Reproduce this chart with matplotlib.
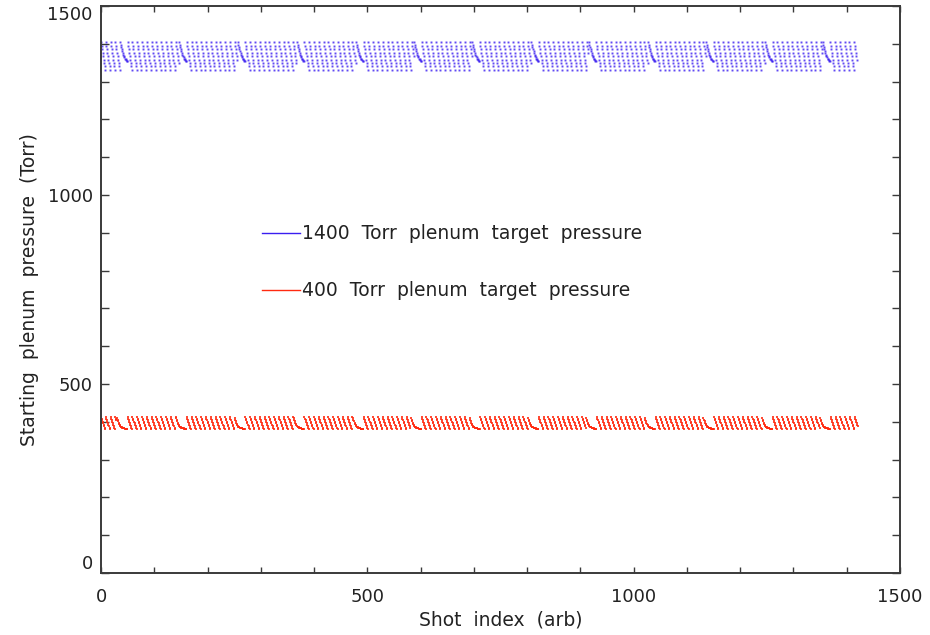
import numpy as np
import matplotlib
matplotlib.use("Agg")
import matplotlib.pyplot as plt
from matplotlib.ticker import MultipleLocator

# ---- values ----
# one ordinary fill/drain cycle (pressure level at each shot of the cycle)
blue_cycle = [1404, 1395, 1386, 1376, 1367, 1358, 1349, 1340, 1331]
red_cycle = [412, 408, 404, 400, 396, 392, 388, 384, 380]
# the slow decays that appear roughly every ~110 shots
blue_decay = [1404, 1397, 1391, 1385, 1380, 1375, 1371, 1367, 1364, 1361, 1359, 1357, 1355, 1354]
red_decay = [410, 405, 401, 397, 394, 391, 389, 387, 386, 385, 384, 384, 383, 383, 383, 382, 382, 382, 381, 381]
# shot indices where the slow decays start
blue_decay_shots = [36, 147, 257, 368, 479, 588, 697, 808, 916, 1027, 1136, 1247, 1355]
red_decay_shots = [30, 141, 251, 362, 473, 582, 692, 802, 911, 1021, 1131, 1241, 1350]
last_shot_blue = 1419
last_shot_red = 1421

legend_labels = ["1400  Torr  plenum  target  pressure", "400  Torr  plenum  target  pressure"]
x_label = "Shot  index  (arb)"
y_label = "Starting  plenum  pressure  (Torr)"
x_ticks = [0, 500, 1000, 1500]
y_ticks = [0, 500, 1000, 1500]


def build(cycle, decay, decay_shots, last):
    vals = []
    starts = list(decay_shots) + [last + 1]
    seg_end = starts[0]
    while len(vals) < seg_end:
        vals.extend(cycle)
    vals = vals[:seg_end]
    for i, s in enumerate(decay_shots):
        vals = vals[:s]
        vals.extend(decay)
        nxt = starts[i + 1]
        while len(vals) < nxt:
            vals.extend(cycle)
        vals = vals[:nxt]
    x = np.arange(len(vals))
    return x, np.array(vals, dtype=float)


bx, by = build(blue_cycle, blue_decay, blue_decay_shots, last_shot_blue)
rx, ry = build(red_cycle, red_decay, red_decay_shots, last_shot_red)

blue = "#3a1ef0"
red = "#ff2a10"
axcol = "#3a3a3a"
txtcol = "#222222"

fig = plt.figure(figsize=(9.30, 6.35), dpi=100)
ax = fig.add_axes([101 / 930, 1 - 573 / 635, 799 / 930, 567 / 635])

ax.plot(bx, by, linestyle="none", marker="s", markersize=1.4, markeredgewidth=0,
        color=blue, alpha=0.8)
ax.plot(rx, ry, linestyle="none", marker="s", markersize=1.9, markeredgewidth=0,
        color=red, alpha=0.85)

ax.set_xlim(0, 1500)
ax.set_ylim(0, 1500)
ax.xaxis.set_minor_locator(MultipleLocator(100))
ax.yaxis.set_minor_locator(MultipleLocator(100))
ax.set_xticks(x_ticks)
ax.set_yticks(y_ticks)
ax.set_xticklabels([str(v) for v in x_ticks])
ax.set_yticklabels([str(v) for v in y_ticks])

ax.tick_params(axis="x", which="both", direction="in", top=True, bottom=True,
               length=4.3, width=1.0, color=axcol, labelsize=13, pad=11,
               labelcolor=txtcol)
ax.tick_params(axis="y", which="both", direction="in", left=True, right=True,
               length=5.8, width=1.0, color=axcol, labelsize=13, pad=6,
               labelcolor=txtcol)

ylabs = ax.get_yticklabels()
ylabs[0].set_verticalalignment("bottom")
ylabs[-1].set_verticalalignment("top")

for sp in ax.spines.values():
    sp.set_color(axcol)
    sp.set_linewidth(1.4)

ax.set_xlabel(x_label, fontsize=13.5, color=txtcol, labelpad=3)
ax.set_ylabel(y_label, fontsize=13.5, color=txtcol, labelpad=6)

# legend drawn as in the original (lines + text inside the plot)
leg_y = [0.5996, 0.499]
leg_col = [blue, red]
for yy, cc, lab in zip(leg_y, leg_col, legend_labels):
    ax.plot([0.2015, 0.249], [yy, yy], color=cc, lw=1.0, transform=ax.transAxes)
    ax.text(0.2516, yy, lab, transform=ax.transAxes, fontsize=13.5, color=txtcol,
            va="center", ha="left")

fig.savefig("out.png", dpi=100)
